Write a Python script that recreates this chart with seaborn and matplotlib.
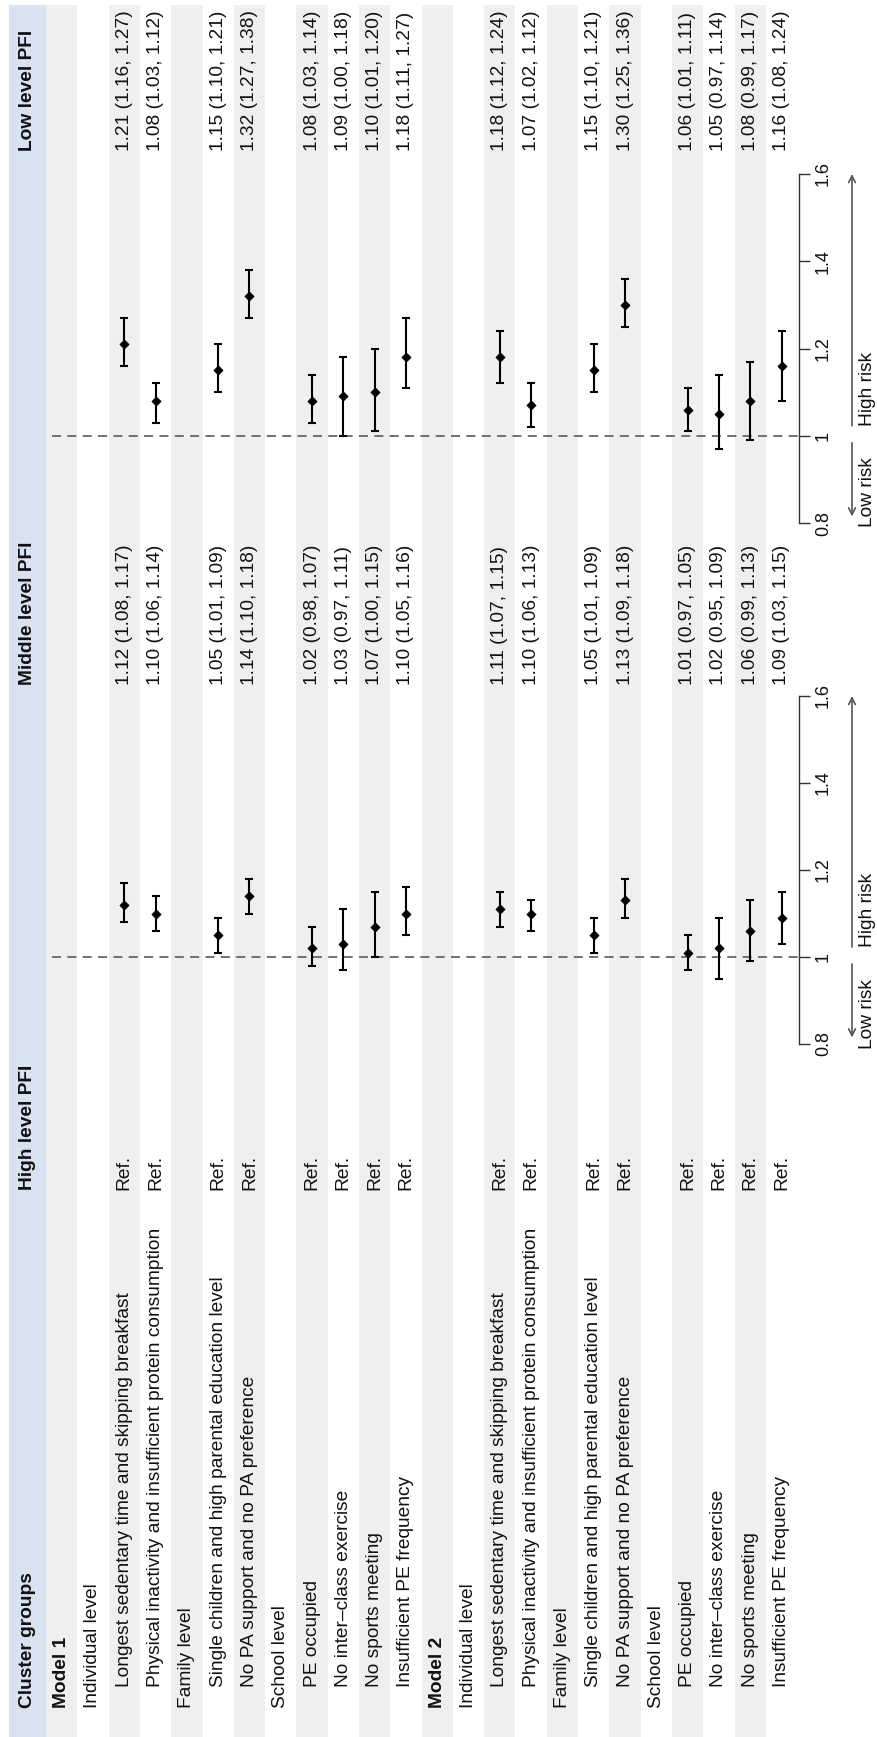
import matplotlib
matplotlib.use("Agg")
import matplotlib.pyplot as plt
import numpy as np
import pandas as pd
import seaborn as sns

# ---- table content -------------------------------------------------------
model_names = ["Model 1", "Model 2"]
level_names = ["Individual level", "Family level", "School level"]
level_items = [
    ["Longest sedentary time and skipping breakfast",
     "Physical inactivity and insufficient protein consumption"],
    ["Single children and high parental education level",
     "No PA support and no PA preference"],
    ["PE occupied", "No inter\u2013class exercise", "No sports meeting",
     "Insufficient PE frequency"],
]
col_headers = ["Cluster groups", "High level PFI", "Middle level PFI", "Low level PFI"]
ref_text = "Ref."

# odds ratios (95% CI), Model 1 items then Model 2 items
mid_or = [1.12, 1.10, 1.05, 1.14, 1.02, 1.03, 1.07, 1.10,
          1.11, 1.10, 1.05, 1.13, 1.01, 1.02, 1.06, 1.09]
mid_lo = [1.08, 1.06, 1.01, 1.10, 0.98, 0.97, 1.00, 1.05,
          1.07, 1.06, 1.01, 1.09, 0.97, 0.95, 0.99, 1.03]
mid_hi = [1.17, 1.14, 1.09, 1.18, 1.07, 1.11, 1.15, 1.16,
          1.15, 1.13, 1.09, 1.18, 1.05, 1.09, 1.13, 1.15]
low_or = [1.21, 1.08, 1.15, 1.32, 1.08, 1.09, 1.10, 1.18,
          1.18, 1.07, 1.15, 1.30, 1.06, 1.05, 1.08, 1.16]
low_lo = [1.16, 1.03, 1.10, 1.27, 1.03, 1.00, 1.01, 1.11,
          1.12, 1.02, 1.10, 1.25, 1.01, 0.97, 0.99, 1.08]
low_hi = [1.27, 1.12, 1.21, 1.38, 1.14, 1.18, 1.20, 1.27,
          1.24, 1.12, 1.21, 1.36, 1.11, 1.14, 1.17, 1.24]

axis_ticks = [0.8, 1.0, 1.2, 1.4, 1.6]
axis_ticklabels = ["0.8", "1", "1.2", "1.4", "1.6"]
risk_labels = ["Low risk", "High risk"]

# ---- build the row list ----------------------------------------------------
rows = []  # (text, kind)
for m in model_names:
    rows.append((m, "model"))
    for lvl, its in zip(level_names, level_items):
        rows.append((lvl, "level"))
        for it in its:
            rows.append((it, "item"))
item_rows = [i for i, (_, k) in enumerate(rows) if k == "item"]

df = pd.DataFrame({
    "row": item_rows,
    "mid_or": mid_or, "mid_lo": mid_lo, "mid_hi": mid_hi,
    "low_or": low_or, "low_lo": low_lo, "low_hi": low_hi,
})

# ---- style -----------------------------------------------------------------
sns.set_theme(style="white")
plt.rcParams["font.family"] = ["Liberation Sans", "DejaVu Sans"]
FS = 13.8
TXT = "#111111"

W, H = 878, 1737
fig = plt.figure(figsize=(W / 100, H / 100), dpi=100)

# row geometry (pixels across the page)
X0, P = 46.0, 31.3
xlim = ((0 - X0) / P - 0.5, (W - X0) / P - 0.5)


def rx(px):
    return (px - X0) / P - 0.5


# background axes: x in row units, y in pixels from the top
bg = fig.add_axes([0, 0, 1, 1])
bg.set_xlim(*xlim)
bg.set_ylim(H, 0)
bg.axis("off")

top_frac = 1 - 5 / H
bg.axvspan(rx(9), rx(46), ymin=0, ymax=top_frac, color="#d7e3f0", lw=0, zorder=0)
for r in range(len(rows)):
    if r % 2 == 0:
        bg.axvspan(r - 0.5, r + 0.5, ymin=0, ymax=top_frac, color="#edf0ef",
                   lw=0, zorder=0)

# column starts (text reads upward from these pixel rows)
Y_LABEL, Y_ITEM, Y_HIGH, Y_MID, Y_LOW = 1708, 1687, 1190, 685, 151
hdr_r = rx(27.5)
for txt, y in zip(col_headers, [Y_LABEL, Y_HIGH, Y_MID, Y_LOW]):
    bg.text(hdr_r, y, txt, rotation=90, rotation_mode="anchor", ha="left",
            va="center", fontsize=FS, fontweight="bold", color=TXT)

for r, (txt, kind) in enumerate(rows):
    y = Y_ITEM if kind == "item" else Y_LABEL
    bg.text(r, y, txt, rotation=90, rotation_mode="anchor", ha="left",
            va="center", fontsize=FS, color=TXT,
            fontweight="bold" if kind == "model" else "normal")

for i, r in enumerate(item_rows):
    bg.text(r, Y_HIGH, ref_text, rotation=90, rotation_mode="anchor",
            ha="left", va="center", fontsize=FS, color=TXT)
    bg.text(r, Y_MID, f"{mid_or[i]:.2f} ({mid_lo[i]:.2f}, {mid_hi[i]:.2f})",
            rotation=90, rotation_mode="anchor", ha="left", va="center",
            fontsize=FS, color=TXT)
    bg.text(r, Y_LOW, f"{low_or[i]:.2f} ({low_lo[i]:.2f}, {low_hi[i]:.2f})",
            rotation=90, rotation_mode="anchor", ha="left", va="center",
            fontsize=FS, color=TXT)


# ---- forest panels ----------------------------------------------------------
def forest(py_low, py_high, prefix):
    ax = fig.add_axes([0, 1 - py_low / H, 1, (py_low - py_high) / H])
    ax.set_facecolor("none")
    ax.set_xlim(*xlim)
    ax.set_ylim(0.8, 1.6)
    for s in ["top", "bottom", "left"]:
        ax.spines[s].set_visible(False)
    sp = ax.spines["right"]
    sp.set_position(("data", rx(799)))
    sp.set_bounds(0.8, 1.6)
    sp.set_color("#333333")
    sp.set_linewidth(1.0)
    ax.set_xticks([])
    ax.yaxis.set_ticks_position("right")
    ax.set_yticks(axis_ticks)
    ax.set_yticklabels(axis_ticklabels)
    ax.tick_params(axis="y", direction="out", length=8, width=1.0,
                   color="#333333", pad=3.5, labelsize=FS - 0.8,
                   labelcolor=TXT)
    for lbl in ax.get_yticklabels():
        lbl.set_rotation(90)
        lbl.set_ha("left")
        lbl.set_va("center")

    # reference line at OR = 1
    ax.hlines(1.0, rx(52), rx(799), colors="#666666", linestyles=(0, (5, 3.5)),
              linewidth=1.3, zorder=1)

    ax.errorbar(df["row"], df[f"{prefix}_or"],
                yerr=[df[f"{prefix}_or"] - df[f"{prefix}_lo"],
                      df[f"{prefix}_hi"] - df[f"{prefix}_or"]],
                fmt="none", ecolor="black", elinewidth=1.5, capsize=3,
                capthick=1.5, zorder=3)
    sns.scatterplot(data=df, x="row", y=f"{prefix}_or", ax=ax, marker="D",
                    s=22, color="black", edgecolor="black", linewidth=0.5,
                    zorder=4, legend=False)
    ax.set_xlabel("")
    ax.set_ylabel("")
    ax.set_xlim(*xlim)
    ax.set_ylim(0.8, 1.6)

    # direction arrows and labels
    xa = rx(852)
    arrow = dict(arrowstyle="->", color="#555555", lw=1.2,
                 shrinkA=0, shrinkB=0, mutation_scale=12)
    ax.annotate("", xy=(xa, 0.815), xytext=(xa, 0.984), arrowprops=arrow,
                annotation_clip=False)
    ax.annotate("", xy=(xa, 1.6), xytext=(xa, 1.023), arrowprops=arrow,
                annotation_clip=False)
    xt = rx(868)
    ax.text(xt, 0.95, risk_labels[0], rotation=90, rotation_mode="anchor",
            ha="right", va="center", fontsize=FS, color=TXT, clip_on=False)
    ax.text(xt, 1.023, risk_labels[1], rotation=90, rotation_mode="anchor",
            ha="left", va="center", fontsize=FS, color=TXT, clip_on=False)
    return ax


forest(1044, 696, "mid")
forest(523, 174, "low")

fig.savefig("out.png", dpi=100)
